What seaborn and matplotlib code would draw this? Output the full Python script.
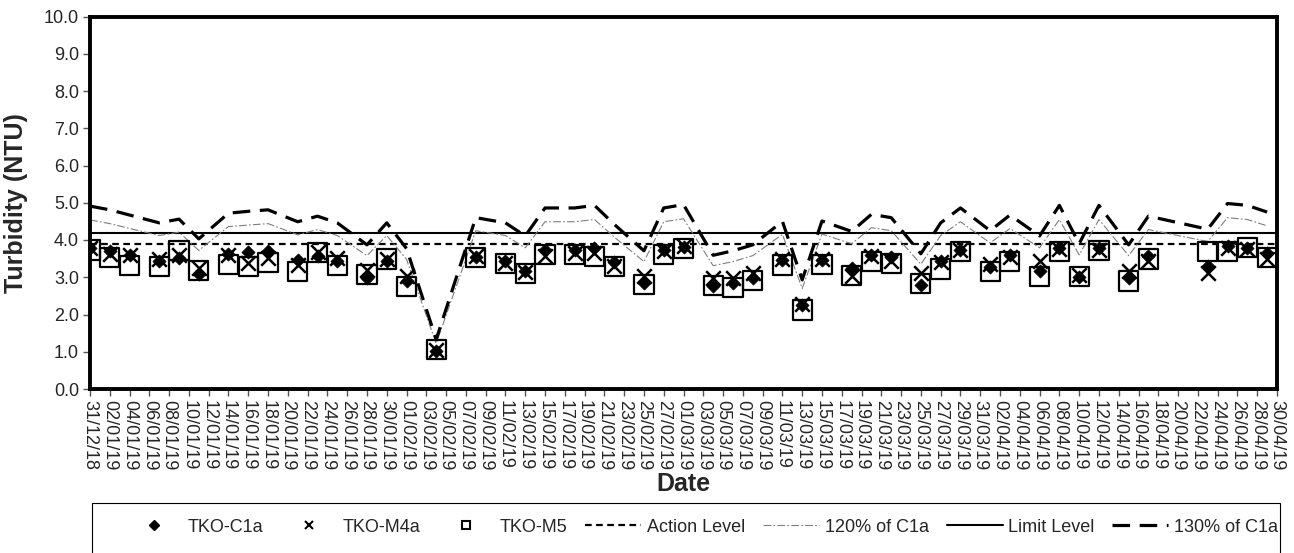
import pandas as pd
import seaborn as sns

import matplotlib
matplotlib.use("Agg")
import matplotlib.pyplot as plt
from matplotlib.lines import Line2D
from matplotlib.patches import Rectangle

# Sampling dates and turbidity readings (NTU)
sample_dates = [
    "2018-12-31", "2019-01-02", "2019-01-04", "2019-01-07", "2019-01-09", "2019-01-11",
    "2019-01-14", "2019-01-16", "2019-01-18", "2019-01-21", "2019-01-23", "2019-01-25",
    "2019-01-28", "2019-01-30", "2019-02-01", "2019-02-04", "2019-02-08", "2019-02-11",
    "2019-02-13", "2019-02-15", "2019-02-18", "2019-02-20", "2019-02-22", "2019-02-25",
    "2019-02-27", "2019-03-01", "2019-03-04", "2019-03-06", "2019-03-08", "2019-03-11",
    "2019-03-13", "2019-03-15", "2019-03-18", "2019-03-20", "2019-03-22", "2019-03-25",
    "2019-03-27", "2019-03-29", "2019-04-01", "2019-04-03", "2019-04-06", "2019-04-08",
    "2019-04-10", "2019-04-12", "2019-04-15", "2019-04-17", "2019-04-23", "2019-04-25",
    "2019-04-27", "2019-04-29",
]
tko_c1a = [
    3.78, 3.70, 3.59, 3.43, 3.51, 3.10, 3.63, 3.67, 3.70, 3.45, 3.57, 3.43,
    2.98, 3.43, 2.90, 1.02, 3.54, 3.43, 3.16, 3.74, 3.74, 3.79, 3.40, 2.85,
    3.74, 3.81, 2.76, 2.85, 2.98, 3.46, 2.25, 3.47, 3.25, 3.61, 3.54, 2.79,
    3.43, 3.74, 3.27, 3.59, 3.16, 3.79, 3.00, 3.79, 2.98, 3.57, 3.30, 3.83,
    3.79, 3.65,
]
tko_m4a = [
    3.78, 3.62, 3.59, 3.50, 3.59, 3.24, 3.60, 3.39, 3.52, 3.34, 3.67, 3.52,
    3.19, 3.49, 3.03, 1.05, 3.58, 3.38, 3.13, 3.57, 3.65, 3.65, 3.30, 3.03,
    3.70, 3.83, 2.98, 2.98, 3.12, 3.48, 2.27, 3.50, 3.03, 3.58, 3.43, 3.12,
    3.40, 3.72, 3.35, 3.55, 3.43, 3.77, 3.07, 3.74, 3.16, 3.43, 3.12, 3.79,
    3.77, 3.50,
]
tko_m5 = [
    3.73, 3.53, 3.31, 3.29, 3.72, 3.19, 3.34, 3.29, 3.40, 3.15, 3.67, 3.31,
    3.07, 3.49, 2.75, 1.05, 3.53, 3.38, 3.11, 3.62, 3.60, 3.55, 3.29, 2.80,
    3.62, 3.78, 2.78, 2.73, 2.91, 3.33, 2.12, 3.35, 3.04, 3.43, 3.36, 2.84,
    3.22, 3.69, 3.15, 3.42, 3.01, 3.68, 3.02, 3.72, 2.90, 3.49, 3.70, 3.69,
    3.79, 3.54,
]
pct120_c1a = [
    4.54, 4.44, 4.31, 4.12, 4.21, 3.72, 4.36, 4.40, 4.44, 4.14, 4.28, 4.12,
    3.58, 4.12, 3.48, 1.22, 4.25, 4.12, 3.79, 4.49, 4.49, 4.55, 4.08, 3.42,
    4.49, 4.57, 3.31, 3.42, 3.58, 4.15, 2.70, 4.16, 3.90, 4.33, 4.25, 3.35,
    4.12, 4.49, 3.92, 4.31, 3.79, 4.55, 3.60, 4.55, 3.58, 4.28, 3.96, 4.60,
    4.55, 4.38,
]
pct130_c1a = [
    4.91, 4.81, 4.67, 4.46, 4.56, 4.03, 4.72, 4.77, 4.81, 4.49, 4.64, 4.46,
    3.87, 4.46, 3.77, 1.33, 4.60, 4.46, 4.11, 4.86, 4.86, 4.93, 4.42, 3.71,
    4.86, 4.95, 3.59, 3.71, 3.87, 4.50, 2.93, 4.51, 4.23, 4.69, 4.60, 3.63,
    4.46, 4.86, 4.25, 4.67, 4.11, 4.93, 3.90, 4.93, 3.87, 4.64, 4.29, 4.98,
    4.93, 4.75,
]
action_level = 3.9
limit_level = 4.2

y_ticks = [0, 1, 2, 3, 4, 5, 6, 7, 8, 9, 10]
x_start, x_end = "2018-12-31", "2019-04-30"

df = pd.DataFrame({
    "Date": pd.to_datetime(sample_dates),
    "TKO-C1a": tko_c1a,
    "TKO-M4a": tko_m4a,
    "TKO-M5": tko_m5,
    "120% of C1a": pct120_c1a,
    "130% of C1a": pct130_c1a,
})

sns.set_style("white")
plt.rcParams["font.family"] = ["Liberation Sans", "DejaVu Sans"]

fig = plt.figure(figsize=(12.94, 5.53), dpi=100)
ax = fig.add_axes([90 / 1294, 1 - 389 / 553, 1187 / 1294, 372.5 / 553])

# limit lines
ax.axhline(action_level, color="black", linewidth=1.6, linestyle=(0, (3, 2)), zorder=2)
ax.axhline(limit_level, color="black", linewidth=1.5, zorder=2)
sns.lineplot(data=df, x="Date", y="120% of C1a", ax=ax, color="#7f7f7f",
             linewidth=0.8, linestyle=(0, (7, 2, 1.5, 2)), zorder=2)
sns.lineplot(data=df, x="Date", y="130% of C1a", ax=ax, color="black",
             linewidth=2.3, linestyle=(0, (5.5, 3)), zorder=2)

# monitoring stations
sns.scatterplot(data=df, x="Date", y="TKO-C1a", ax=ax, marker="D", color="black",
                s=45, edgecolor="black", linewidth=0.5, zorder=3)
sns.scatterplot(data=df, x="Date", y="TKO-M4a", ax=ax, marker="x", color="black",
                s=110, linewidth=1.8, zorder=3)
sns.scatterplot(data=df, x="Date", y="TKO-M5", ax=ax, marker="s", facecolor="none",
                edgecolor="black", s=190, linewidth=1.6, zorder=4)

tick_dates = pd.date_range(x_start, x_end, freq="2D")
ax.set_xlim(pd.Timestamp(x_start), pd.Timestamp(x_end))
ax.set_xticks(tick_dates)
ax.set_xticklabels([d.strftime("%d/%m/%y") for d in tick_dates], rotation=270,
                   fontsize=13)
ax.set_ylim(0, 10)
ax.set_yticks(y_ticks)
ax.set_yticklabels([f"{v:.1f}" for v in y_ticks], fontsize=13)
ax.tick_params(axis="both", direction="out", length=5, width=1, color="#555555",
               pad=3, bottom=True, left=True)

for side in ax.spines.values():
    side.set_color("black")
    side.set_linewidth(2.8)

ax.set_xlabel("Date", fontsize=18, fontweight="bold")
ax.set_ylabel("Turbidity (NTU)", fontsize=18, fontweight="bold")
ax.xaxis.set_label_coords(0.5, -0.222)
ax.yaxis.set_label_coords(-0.052, 0.5)
ax.xaxis.label.set_va("top")

# legend in a box running off the bottom edge
handles = [
    Line2D([], [], marker="D", color="black", linestyle="none", markersize=5),
    Line2D([], [], marker="x", color="black", linestyle="none", markersize=6,
           markeredgewidth=1.5),
    Line2D([], [], marker="s", color="black", markerfacecolor="none", linestyle="none",
           markersize=6, markeredgewidth=1.5),
    Line2D([], [], color="black", linewidth=1.6, linestyle=(0, (3, 2))),
    Line2D([], [], color="#7f7f7f", linewidth=0.8, linestyle=(0, (7, 2, 1.5, 2))),
    Line2D([], [], color="black", linewidth=1.5),
    Line2D([], [], color="black", linewidth=2.3, linestyle=(0, (5.5, 3))),
]
labels = ["TKO-C1a", "TKO-M4a", "TKO-M5", "Action Level", "120% of C1a",
          "Limit Level", "130% of C1a"]
fig.legend(handles, labels, loc="center left", bbox_to_anchor=(126 / 1294, 1 - 527 / 553),
           ncol=7, frameon=False, fontsize=13, handlelength=3.1, handletextpad=0.3,
           columnspacing=1.0, borderpad=0, borderaxespad=0)
fig.patches.append(Rectangle((92 / 1294, -0.1), 1188 / 1294, 0.1 + (553 - 503) / 553,
                             transform=fig.transFigure, fill=False, edgecolor="black",
                             linewidth=0.8))

fig.savefig("out.png", dpi=100)
